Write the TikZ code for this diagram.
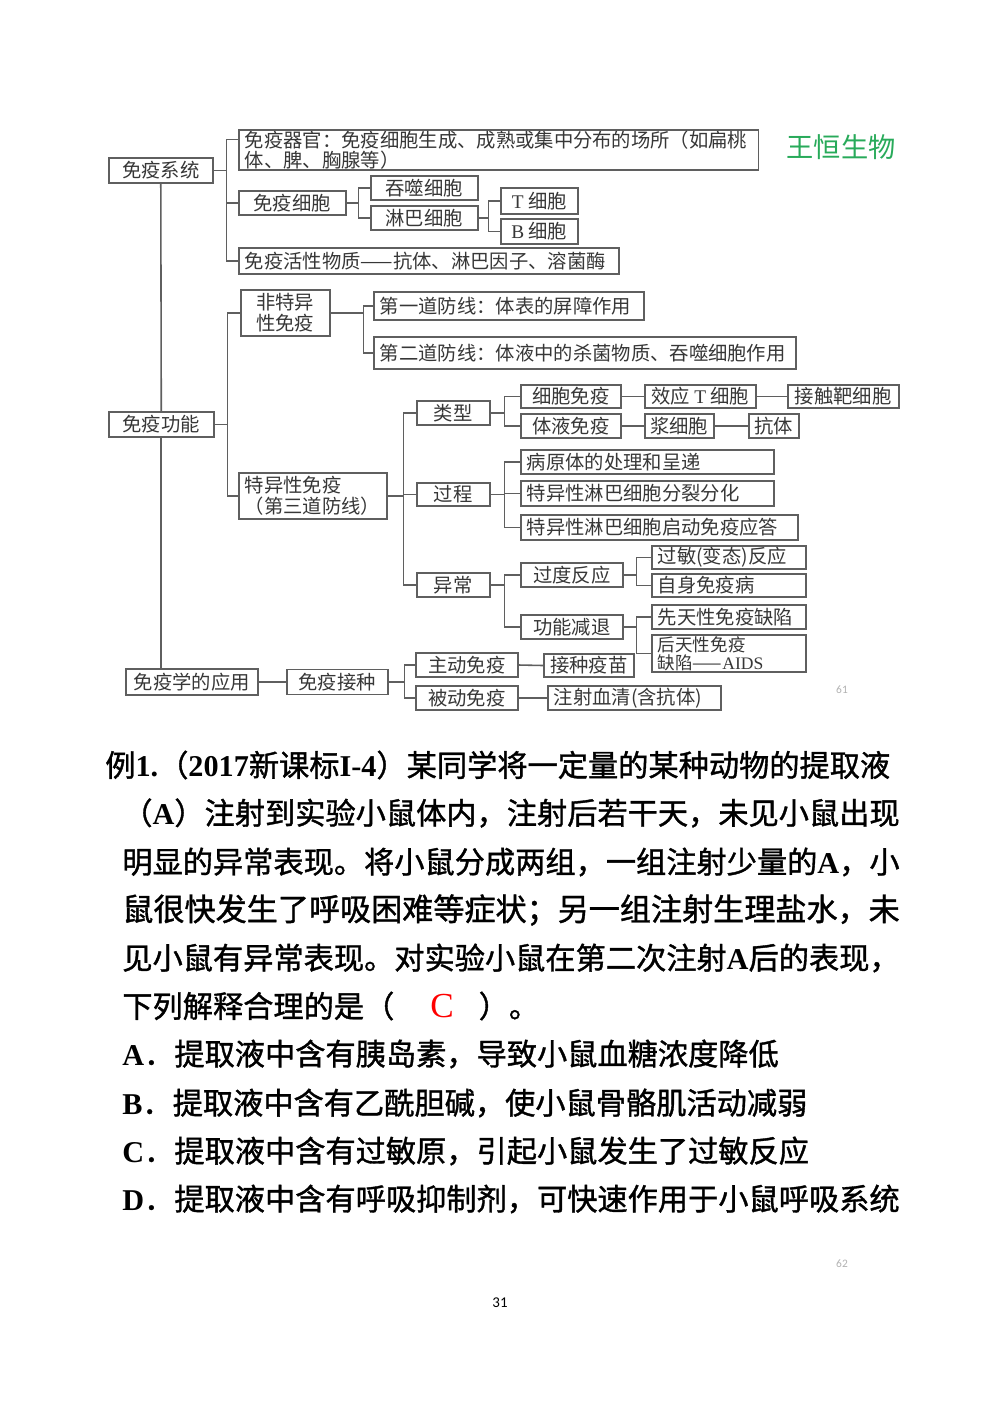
\documentclass[tikz,border=0pt]{standalone}
\usepackage{fontspec}
\setmainfont{Liberation Serif}
\newfontfamily\cjk{Noto Sans CJK SC}
\newfontfamily\cjkq[FakeBold=1.2]{Noto Sans CJK SC}
\newfontfamily\pgnum{Carlito}
\usepackage{xcolor}
\usetikzlibrary{positioning,calc}
\definecolor{boxc}{RGB}{95,95,95}
\definecolor{txtc}{RGB}{55,55,55}
\definecolor{wgreen}{RGB}{40,170,90}
\newcommand\chartfont{\cjk\fontsize{11pt}{12pt}\selectfont}
\newcommand\qfont{\cjkq\fontsize{17.2pt}{20pt}\selectfont}
\newcommand\lat[1]{{\rmfamily\bfseries #1}}
\newcommand\rmT[1]{{\rmfamily #1}}

\begin{document}
\begin{tikzpicture}[x=0.02cm,y=-0.02cm,
  bx/.style={draw=boxc,line width=0.9pt,anchor=west,inner xsep=0.1cm,inner ysep=0pt,
             font=\chartfont,text=txtc,align=center},
  lbx/.style={bx,align=left,inner xsep=0.12cm},
  ln/.style={boxc,line width=0.9pt},
  qline/.style={anchor=west,inner sep=0pt,font=\qfont},
  pnum/.style={text=gray!60,font=\pgnum\fontsize{6.5pt}{8pt}\selectfont}
]
\fill[white] (0,0) rectangle (1000,1414);
\useasboundingbox (0,0) rectangle (1000,1414);

% chart: boxes
\node[bx,minimum width=2.08cm,minimum height=0.5cm]  (sys)   at (108,170.5) {免疫系统};
\node[lbx,text width=10.16cm,minimum height=0.8cm,inner ysep=0.5pt] (org) at (238,150) {免疫器官：免疫细胞生成、成熟或集中分布的场所（如扁桃\\[-0.5pt]体、脾、胸腺等）};
\node[bx,minimum width=2.14cm,minimum height=0.48cm] (cell)  at (238,203)   {免疫细胞};
\node[bx,minimum width=2.14cm,minimum height=0.48cm] (phago) at (370,188)   {吞噬细胞};
\node[bx,minimum width=2.14cm,minimum height=0.48cm] (lymph) at (370,218)   {淋巴细胞};
\node[bx,minimum width=1.54cm,minimum height=0.52cm] (tcell) at (500,201)   {\rmT{T} 细胞};
\node[bx,minimum width=1.54cm,minimum height=0.5cm]  (bcell) at (500,231.5) {\rmT{B} 细胞};
\node[lbx,text width=7.36cm,minimum height=0.52cm]   (actv)  at (238,261)   {免疫活性物质——抗体、淋巴因子、溶菌酶};

\node[bx,minimum width=2.1cm,minimum height=0.5cm]   (func)  at (108,424.5) {免疫功能};
\node[bx,minimum width=1.78cm,minimum height=0.92cm] (nonsp) at (240,313)   {非特异\\性免疫};
\node[lbx,text width=5.16cm,minimum height=0.56cm]   (line1) at (373,306)   {第一道防线：体表的屏障作用};
\node[lbx,text width=8.2cm,minimum height=0.64cm]    (line2) at (373,353)   {第二道防线：体液中的杀菌物质、吞噬细胞作用};
\node[lbx,text width=2.72cm,minimum height=0.92cm]   (spec)  at (238,496)   {特异性免疫\\（第三道防线）};
\node[bx,minimum width=1.46cm,minimum height=0.48cm] (kind)  at (416,413)   {类型};
\node[bx,minimum width=1.46cm,minimum height=0.46cm] (proc)  at (416,494.5) {过程};
\node[bx,minimum width=1.46cm,minimum height=0.48cm] (abn)   at (416,585)   {异常};

\node[bx,minimum width=2.0cm,minimum height=0.46cm]  (cimm)   at (520,396.5) {细胞免疫};
\node[bx,minimum width=2.0cm,minimum height=0.48cm]  (himm)   at (520,426)   {体液免疫};
\node[bx,minimum width=2.22cm,minimum height=0.46cm] (efft)   at (644,396.5) {效应 \rmT{T} 细胞};
\node[bx,minimum width=2.22cm,minimum height=0.46cm] (target) at (787,396.5) {接触靶细胞};
\node[bx,minimum width=1.38cm,minimum height=0.48cm] (plasma) at (644,426)   {浆细胞};
\node[bx,minimum width=1.0cm,minimum height=0.48cm]  (antib)  at (748,426)   {抗体};

\node[lbx,text width=4.82cm,minimum height=0.48cm] (step1) at (520,462)   {病原体的处理和呈递};
\node[lbx,text width=4.82cm,minimum height=0.5cm]  (step2) at (520,493.5) {特异性淋巴细胞分裂分化};
\node[lbx,text width=5.3cm,minimum height=0.5cm]   (step3) at (520,527.5) {特异性淋巴细胞启动免疫应答};

\node[bx,minimum width=2.04cm,minimum height=0.48cm] (over)   at (520,575)   {过度反应};
\node[bx,minimum width=2.04cm,minimum height=0.48cm] (weak)   at (520,627)   {功能减退};
\node[lbx,text width=2.84cm,minimum height=0.46cm]   (allerg) at (651,557.5) {过敏(变态)反应};
\node[lbx,text width=2.84cm,minimum height=0.46cm]   (auto)   at (651,585.5) {自身免疫病};
\node[lbx,text width=2.84cm,minimum height=0.48cm]   (congen) at (651,617)   {先天性免疫缺陷};
\node[lbx,text width=2.84cm,minimum height=0.64cm,inner ysep=0.8pt,font=\cjk\fontsize{10pt}{10pt}\selectfont]
  (acq) at (651,653.5) {后天性免疫\\缺陷——\rmT{AIDS}};

\node[bx,minimum width=2.64cm,minimum height=0.52cm] (appl)    at (125,682)   {免疫学的应用};
\node[bx,minimum width=2.02cm,minimum height=0.5cm]  (vacc)    at (286,682)   {免疫接种};
\node[bx,minimum width=2.04cm,minimum height=0.48cm] (activ)   at (415,665)   {主动免疫};
\node[bx,minimum width=2.04cm,minimum height=0.48cm] (passv)   at (415,698)   {被动免疫};
\node[bx,minimum width=1.8cm,minimum height=0.46cm]  (vaccine) at (543,665.5) {接种疫苗};
\node[lbx,text width=3.22cm,minimum height=0.48cm]   (serum)   at (547,698)   {注射血清(含抗体)};

% chart: connectors
\coordinate (orgt) at ($(org.north west)!0.25!(org.south west)$);
\draw[ln] (sys.east) -- ++(13,0) coordinate (j1);
\draw[ln] (j1) |- (orgt); \draw[ln] (j1) |- (cell.west); \draw[ln] (j1) |- (actv.west);
\draw[ln] (cell.east) -- ++(12,0) coordinate (j2);
\draw[ln] (j2) |- (phago.west); \draw[ln] (j2) |- (lymph.west);
\draw[ln] (lymph.east) -- ++(10,0) coordinate (j3);
\draw[ln] (j3) |- (tcell.west); \draw[ln] (j3) |- (bcell.west);

\draw[ln] (sys.south) -- (func.north);
\draw[ln] (func.south) -- (func.south |- appl.north);

\draw[ln] (func.east) -- ++(13,0) coordinate (j4);
\draw[ln] (j4) |- (nonsp.west); \draw[ln] (j4) |- (spec.west);
\draw[ln] (nonsp.east) -- ++(33,0) coordinate (j5);
\draw[ln] (j5) |- (line1.west); \draw[ln] (j5) |- (line2.west);
\draw[ln] (spec.east) -- ++(16,0) coordinate (j6);
\draw[ln] (j6) |- (kind.west); \draw[ln] (j6) |- (proc.west); \draw[ln] (j6) |- (abn.west);
\draw[ln] (kind.east) -- ++(14,0) coordinate (j7);
\draw[ln] (j7) |- (cimm.west); \draw[ln] (j7) |- (himm.west);
\draw[ln] (cimm.east) -- (efft.west); \draw[ln] (efft.east) -- (target.west);
\draw[ln] (himm.east) -- (plasma.west); \draw[ln] (plasma.east) -- (antib.west);
\draw[ln] (proc.east) -- ++(14,0) coordinate (j8);
\draw[ln] (j8) |- (step1.west); \draw[ln] (j8) |- (step2.west); \draw[ln] (j8) |- (step3.west);
\draw[ln] (abn.east) -- ++(14,0) coordinate (j9);
\draw[ln] (j9) |- (over.west); \draw[ln] (j9) |- (weak.west);
\draw[ln] (over.east) -- ++(13,0) coordinate (j10);
\draw[ln] (j10) |- (allerg.west); \draw[ln] (j10) |- (auto.west);
\draw[ln] (weak.east) -- ++(13,0) coordinate (j11);
\draw[ln] (j11) |- (congen.west); \draw[ln] (j11) |- (acq.west);

\draw[ln] (appl.east) -- (vacc.west);
\draw[ln] (vacc.east) -- ++(16,0) coordinate (j12);
\draw[ln] (j12) |- (activ.west); \draw[ln] (j12) |- (passv.west);
\draw[ln] (activ.east) -- (vaccine.west); \draw[ln] (passv.east) -- (serum.west);

\node[text=wgreen,font=\cjk\fontsize{15.5pt}{16pt}\selectfont] (brand) at (841,147) {王恒生物};
\node[pnum] (pg61) at (842,690) {61};

% question
\node[qline] (q1) at (105,765) {例\lat{1.}（\lat{2017}新课标\lat{I-4}）某同学将一定量的某种动物的提取液};
\node[qline] (q2) at (122,813) {（\lat{A}）注射到实验小鼠体内，注射后若干天，未见小鼠出现};
\node[qline] (q3) at (122,862) {明显的异常表现。将小鼠分成两组，一组注射少量的\lat{A}，小};
\node[qline,font=\cjkq\fontsize{17.7pt}{20pt}\selectfont] (q4) at (122,910) {鼠很快发生了呼吸困难等症状；另一组注射生理盐水，未};
\node[qline] (q5) at (122,958) {见小鼠有异常表现。对实验小鼠在第二次注射\lat{A}后的表现，};
\node[qline] (q6) at (122,1006) {下列解释合理的是（\hspace{0.72cm}{\rmfamily\fontsize{20pt}{20pt}\selectfont\color{red}C}\hspace{0.5cm}）。};
\node[qline] (optA) at (122,1054) {\lat{A}．提取液中含有胰岛素，导致小鼠血糖浓度降低};
\node[qline] (optB) at (122,1103) {\lat{B}．提取液中含有乙酰胆碱，使小鼠骨骼肌活动减弱};
\node[qline] (optC) at (122,1151) {\lat{C}．提取液中含有过敏原，引起小鼠发生了过敏反应};
\node[qline] (optD) at (122,1199) {\lat{D}．提取液中含有呼吸抑制剂，可快速作用于小鼠呼吸系统};

\node[pnum] (pg62) at (842,1264) {62};
\node[font=\pgnum\fontsize{8.5pt}{9pt}\selectfont] (pg31) at (500,1303) {31};
\end{tikzpicture}
\end{document}
